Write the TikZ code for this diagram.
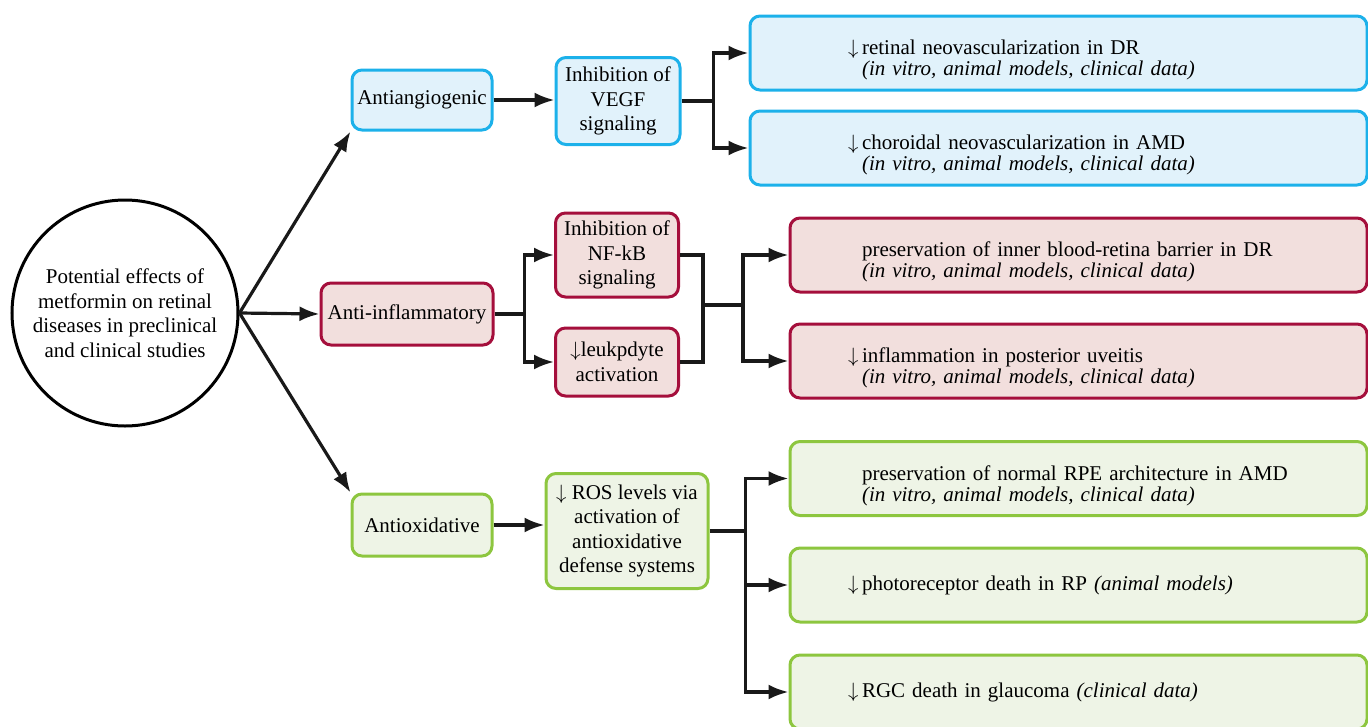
\documentclass[tikz,border=0pt]{standalone}
\usepackage{fontspec}
\setmainfont{Liberation Serif}
\usetikzlibrary{arrows.meta}
\definecolor{angioline}{HTML}{1CB1EA}
\definecolor{angiofill}{HTML}{E1F2FB}
\definecolor{inflamline}{HTML}{A50F3C}
\definecolor{inflamfill}{HTML}{F2DFDD}
\definecolor{oxidline}{HTML}{8DC63F}
\definecolor{oxidfill}{HTML}{EEF4E6}
\newcommand{\decr}{\makebox[14pt][l]{$\downarrow$}}
\newcommand{\skipdecr}{\hspace*{14pt}}
\begin{document}
\begin{tikzpicture}[x=1pt,y=-1pt,
    every node/.style={font=\fontsize{21}{24.5}\selectfont},
    box/.style={draw, rounded corners=10pt, line width=3pt, align=center, inner sep=2pt},
    angio/.style={box, draw=angioline, fill=angiofill},
    inflam/.style={box, draw=inflamline, fill=inflamfill},
    oxid/.style={box, draw=oxidline, fill=oxidfill},
    effect/.style={minimum height=74pt, align=left, font=\fontsize{21}{21}\selectfont},
    twoline/.style={text height=29pt},
    link/.style={line width=3.2pt, black!90},
    arr/.style={link, -{Latex[length=20pt,width=15pt]}}]
    \useasboundingbox (0,0) rectangle (1368,726);
    \clip (0,0) rectangle (1368,726);
    % centre
    \node[draw, circle, line width=3pt, minimum size=226pt, align=center] (circ) at (125,313)
        {Potential effects of\\metformin on retinal\\diseases in preclinical\\and clinical studies};
    % first level
    \node[angio, minimum width=140pt, minimum height=60pt] (angio) at (422,100) {Antiangiogenic};
    \node[inflam, minimum width=172pt, minimum height=62pt] (inflam) at (407,314) {Anti-inflammatory};
    \node[oxid, minimum width=140pt, minimum height=62pt] (oxid) at (422,525) {Antioxidative};
    % second level
    \node[angio, minimum width=124pt, minimum height=87pt] (vegf) at (618,101) {Inhibition of\\VEGF\\signaling};
    \node[inflam, minimum width=123pt, minimum height=84pt] (nfkb) at (617,255) {Inhibition of\\NF-kB\\signaling};
    \node[inflam, minimum width=123pt, minimum height=68pt] (leuk) at (617,362) {$\downarrow$leukpdyte\\activation};
    \node[oxid, minimum width=162pt, minimum height=115pt] (ros) at (627,531)
        {$\downarrow$ ROS levels via\\activation of\\antioxidative\\defense systems};
    % effects
    \node[angio, effect, twoline, minimum width=617pt, text width=421pt] (retina) at (1058.5,53)
        {\decr retinal neovascularization in DR\\\skipdecr\textit{(in vitro, animal models, clinical data)}};
    \node[angio, effect, twoline, minimum width=617pt, text width=421pt] (choroid) at (1058.5,148)
        {\decr choroidal neovascularization in AMD\\\skipdecr\textit{(in vitro, animal models, clinical data)}};
    \node[inflam, effect, twoline, minimum width=577pt, text width=461pt] (barrier) at (1078.5,255)
        {\skipdecr preservation of inner blood-retina barrier in DR\\\skipdecr\textit{(in vitro, animal models, clinical data)}};
    \node[inflam, effect, twoline, minimum width=577pt, text width=461pt] (uveitis) at (1078.5,361)
        {\decr inflammation in posterior uveitis\\\skipdecr\textit{(in vitro, animal models, clinical data)}};
    \node[oxid, effect, twoline, minimum width=577pt, text width=461pt] (rpe) at (1078.5,478.5)
        {\skipdecr preservation of normal RPE architecture in AMD\\\skipdecr\textit{(in vitro, animal models, clinical data)}};
    \node[oxid, effect, minimum width=577pt, text width=461pt] (photo) at (1078.5,585)
        {\decr photoreceptor death in RP \textit{(animal models)}};
    \node[oxid, effect, minimum width=577pt, text width=461pt] (rgc) at (1078.5,692)
        {\decr RGC death in glaucoma \textit{(clinical data)}};
    % centre to first level
    \draw[arr] (circ.east) -- (angio.south west);
    \draw[arr] (circ.east) -- (inflam.west);
    \draw[arr] (circ.east) -- (oxid.north west);
    % antiangiogenic branch
    \draw[arr] (angio.east) -- (angio.east -| vegf.west);
    \draw[link] (vegf.east) -- ++(32,0) coordinate (jvegf);
    \draw[arr] (jvegf) |- (retina.west);
    \draw[arr] (jvegf) |- (choroid.west);
    % anti-inflammatory branch
    \draw[link] (inflam.east) -- ++(30,0) coordinate (jinflam);
    \draw[arr] (jinflam) |- (nfkb.west);
    \draw[arr] (jinflam) |- (leuk.west);
    \coordinate (merge) at (703,305);
    \draw[link] (nfkb.east) -| (merge);
    \draw[link] (leuk.east) -| (merge);
    \draw[link] (merge) -- ++(40,0) coordinate (jmerge);
    \draw[arr] (jmerge) |- (barrier.west);
    \draw[arr] (jmerge) |- (uveitis.west);
    % antioxidative branch
    \draw[arr] (oxid.east) -- (oxid.east -| ros.west);
    \draw[link] (ros.east) -- ++(36,0) coordinate (jros);
    \draw[arr] (jros) |- (rpe.west);
    \draw[arr] (jros) |- (photo.west);
    \draw[arr] (jros) |- (rgc.west);
\end{tikzpicture}
\end{document}
